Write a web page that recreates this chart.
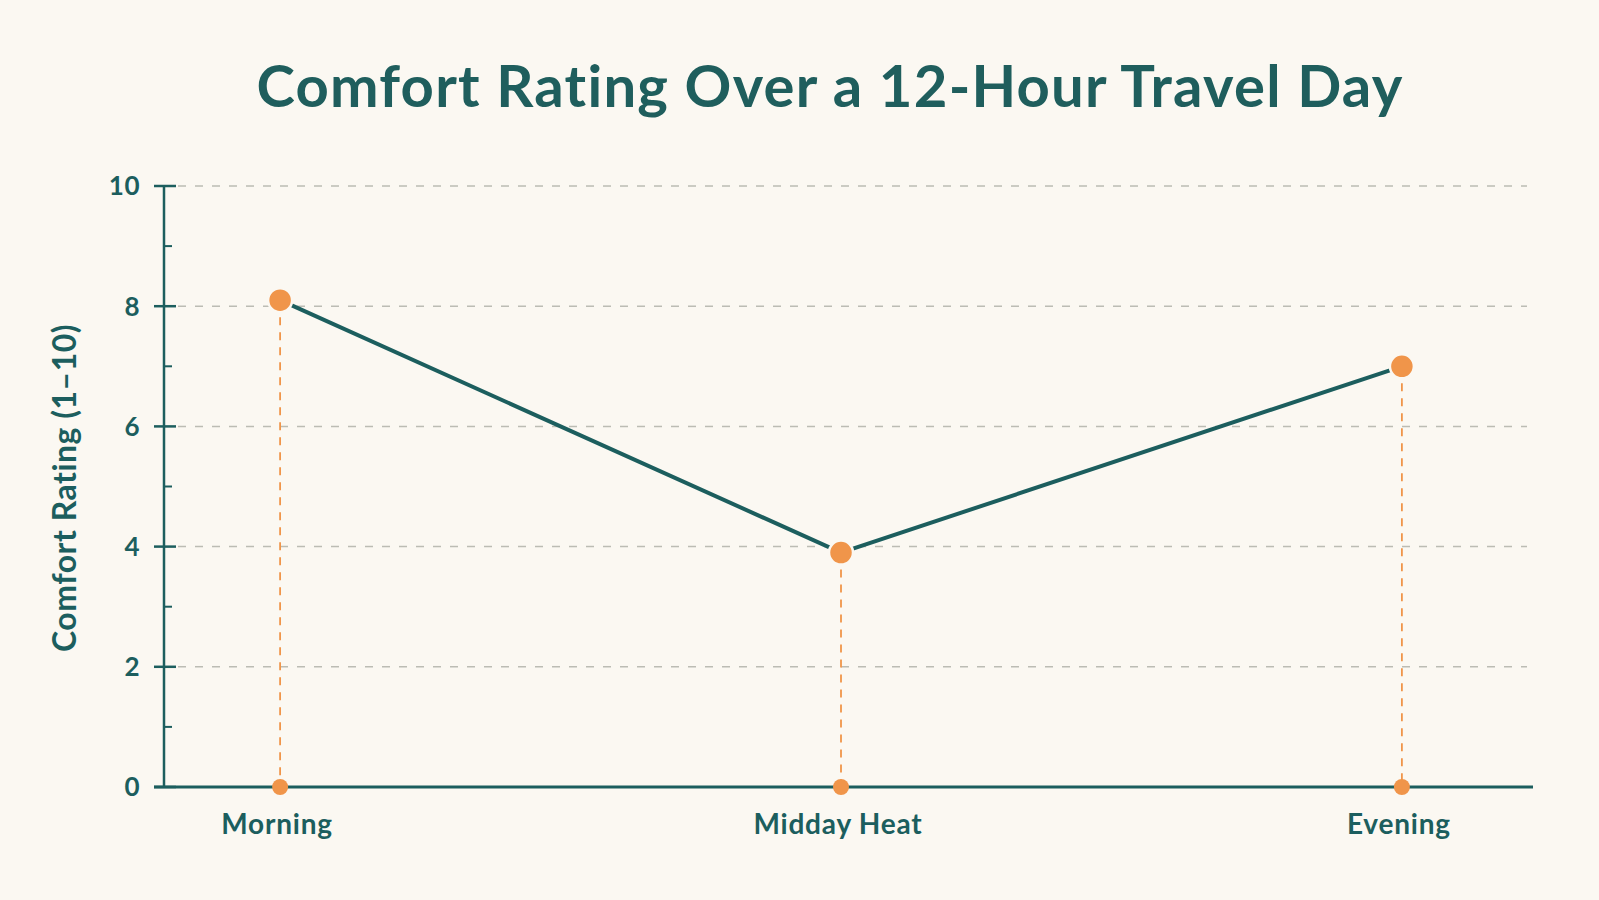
<!DOCTYPE html>
<html>
<head>
<meta charset="utf-8">
<script src="https://cdn.jsdelivr.net/npm/d3@7"></script>
<style>
	html, body { margin: 0; padding: 0; background: #fbf8f2; }
	svg { display: block; }
</style>
</head>
<body>
<div id="chart"></div>
<script>
// data
const periods = ["Morning", "Midday Heat", "Evening"];
const ratings = [8.1, 3.9, 7.0];
const majorTicks = [0, 2, 4, 6, 8, 10];
const minorTicks = [1, 3, 5, 7, 9];

const teal = "#1c5e5e";
const orange = "#f0954a";
const font = "Lato, 'Open Sans', sans-serif";

const width = 1599;
const height = 900;

const svg = d3
	.select("#chart")
	.append("svg")
	.attr("width", width)
	.attr("height", height)
	.style("background", "#fbf8f2");

// scales
const x = d3
	.scalePoint()
	.domain(periods)
	.range([164, 1518])
	.padding(0.207);

const y = d3
	.scaleLinear()
	.domain([0, 10])
	.range([787, 186]);

const axisLeft = 164;
const gridRight = 1527;
const axisRight = 1533;

// gridlines
svg
	.append("g")
	.selectAll("line")
	.data(majorTicks.filter(d => d > 0))
	.enter()
	.append("line")
	.attr("x1", axisLeft + 14)
	.attr("x2", gridRight)
	.attr("y1", d => y(d))
	.attr("y2", d => y(d))
	.attr("stroke", "#bcbcb4")
	.attr("stroke-width", 1.5)
	.attr("stroke-dasharray", "8,9");

// y axis (major ticks cross the line, minor ones only inside)
const yAxis = svg.append("g").attr("transform", `translate(${axisLeft},0)`);

yAxis
	.append("line")
	.attr("x1", 0)
	.attr("x2", 0)
	.attr("y1", y(10))
	.attr("y2", y(0))
	.attr("stroke", teal)
	.attr("stroke-width", 2.5);

yAxis
	.selectAll(".major")
	.data(majorTicks)
	.enter()
	.append("line")
	.attr("class", "major")
	.attr("x1", -10)
	.attr("x2", 12)
	.attr("y1", d => y(d))
	.attr("y2", d => y(d))
	.attr("stroke", teal)
	.attr("stroke-width", 2.5);

yAxis
	.selectAll(".minor")
	.data(minorTicks)
	.enter()
	.append("line")
	.attr("class", "minor")
	.attr("x1", 0)
	.attr("x2", 8)
	.attr("y1", d => y(d))
	.attr("y2", d => y(d))
	.attr("stroke", teal)
	.attr("stroke-width", 2);

yAxis
	.selectAll(".tickLabel")
	.data(majorTicks)
	.enter()
	.append("text")
	.attr("class", "tickLabel")
	.attr("x", -24)
	.attr("y", d => y(d))
	.attr("dy", "0.36em")
	.attr("text-anchor", "end")
	.style("font-family", font)
	.style("font-size", "26px")
	.style("font-weight", 700)
	.style("letter-spacing", "0.5px")
	.style("fill", teal)
	.text(d => d);

// x axis line
svg
	.append("line")
	.attr("x1", axisLeft - 10)
	.attr("x2", axisRight)
	.attr("y1", y(0))
	.attr("y2", y(0))
	.attr("stroke", teal)
	.attr("stroke-width", 3);

// dashed drop lines
const points = periods.map((p, i) => ({ period: p, rating: ratings[i] }));

svg
	.selectAll(".drop")
	.data(points)
	.enter()
	.append("line")
	.attr("class", "drop")
	.attr("x1", d => x(d.period))
	.attr("x2", d => x(d.period))
	.attr("y1", d => y(d.rating) + 17)
	.attr("y2", y(0))
	.attr("stroke", orange)
	.attr("stroke-width", 1.8)
	.attr("stroke-dasharray", "8,7");

// base dots on the x axis
svg
	.selectAll(".baseDot")
	.data(points)
	.enter()
	.append("circle")
	.attr("class", "baseDot")
	.attr("cx", d => x(d.period))
	.attr("cy", y(0))
	.attr("r", 8)
	.attr("fill", orange);

// line
const line = d3
	.line()
	.x(d => x(d.period))
	.y(d => y(d.rating));

svg
	.append("path")
	.datum(points)
	.attr("d", line)
	.attr("fill", "none")
	.attr("stroke", teal)
	.attr("stroke-width", 4);

// data dots
svg
	.selectAll(".dot")
	.data(points)
	.enter()
	.append("circle")
	.attr("class", "dot")
	.attr("cx", d => x(d.period))
	.attr("cy", d => y(d.rating))
	.attr("r", 12)
	.attr("fill", orange)
	.attr("stroke", "#fbf8f2")
	.attr("stroke-width", 2.5);

// x labels
svg
	.selectAll(".xLabel")
	.data(periods)
	.enter()
	.append("text")
	.attr("class", "xLabel")
	.attr("x", d => x(d) - 3)
	.attr("y", 834)
	.attr("text-anchor", "middle")
	.style("font-family", font)
	.style("font-size", "28px")
	.style("font-weight", 700)
	.style("letter-spacing", "0.8px")
	.style("fill", teal)
	.text(d => d);

// y label
svg
	.append("text")
	.attr("transform", "translate(76,488) rotate(-90)")
	.attr("text-anchor", "middle")
	.style("font-family", font)
	.style("font-size", "32px")
	.style("font-weight", 700)
	.style("letter-spacing", "0.5px")
	.style("fill", teal)
	.text("Comfort Rating (1–10)");

// title
svg
	.append("text")
	.attr("x", 830)
	.attr("y", 107)
	.attr("text-anchor", "middle")
	.style("font-family", font)
	.style("font-size", "58px")
	.style("font-weight", 700)
	.style("letter-spacing", "1.25px")
	.style("fill", "#1f5e5d")
	.text("Comfort Rating Over a 12-Hour Travel Day");
</script>
</body>
</html>
